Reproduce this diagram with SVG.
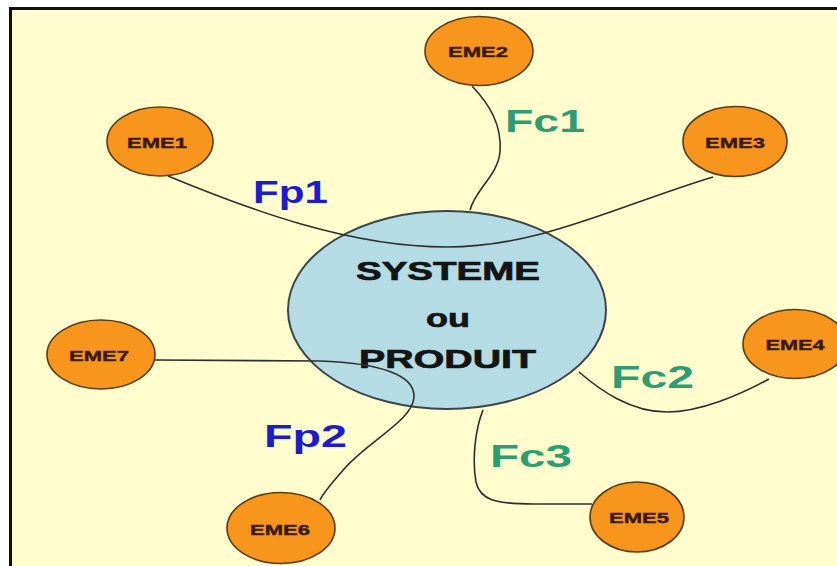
<svg xmlns="http://www.w3.org/2000/svg" width="837" height="566" viewBox="0 0 837 566">
  <style>
    .eme ellipse { fill: #F8951C; stroke: #5A3C14; stroke-width: 1.6; }
    .eme text { font-family: "Liberation Sans", Arial, sans-serif; font-weight: bold; font-size: 15px; fill: #3A1A0C; stroke: #3A1A0C; stroke-width: 0.4; text-anchor: middle; }
    .link { fill: none; stroke: #2E2E2E; stroke-width: 1.6; }
    .fp { font-family: "Liberation Sans", Arial, sans-serif; font-weight: bold; font-size: 32px; fill: #1C1CCC; }
    .fc { font-family: "Liberation Sans", Arial, sans-serif; font-weight: bold; font-size: 32px; fill: #2E9C72; }
    .core text { font-family: "Liberation Sans", Arial, sans-serif; font-weight: bold; font-size: 26px; fill: #141414; stroke: #141414; stroke-width: 0.7; }
  </style>

  <!-- page and frame -->
  <rect x="0" y="0" width="837" height="566" fill="#FFFFFF"/>
  <rect x="11" y="9" width="826" height="557" fill="#FFFCCE"/>
  <line x1="9" y1="8.5" x2="837" y2="8.5" stroke="#111" stroke-width="3"/>
  <line x1="10.5" y1="7" x2="10.5" y2="566" stroke="#111" stroke-width="3"/>

  <!-- central system -->
  <g id="systeme" class="core">
    <ellipse cx="447" cy="310" rx="159" ry="99" fill="#B5DCE5" stroke="#3A4646" stroke-width="2"/>
    <text x="356" y="280" textLength="184" lengthAdjust="spacingAndGlyphs">SYSTEME</text>
    <text x="426" y="327" textLength="44" lengthAdjust="spacingAndGlyphs">ou</text>
    <text x="359" y="368" textLength="177" lengthAdjust="spacingAndGlyphs">PRODUIT</text>
  </g>

  <!-- connectors -->
  <g id="connectors">
    <path class="link" d="M 168 176 C 250 210, 350 247, 447 247 C 540 247, 620 205, 713 177"/>
    <path class="link" d="M 472 86 C 490 105, 502 125, 500 152 C 498 175, 475 190, 470 210"/>
    <path class="link" d="M 155 360 L 320 361 C 380 363, 415 375, 414 397 C 413 420, 370 440, 345 468 C 330 485, 322 495, 320 500"/>
    <path class="link" d="M 579 372 C 600 390, 630 412, 667 412 C 700 412, 740 395, 769 379"/>
    <path class="link" d="M 483 410 C 475 430, 472 460, 476 482 C 480 500, 495 504, 534 504 L 592 504"/>
    <text class="fp" x="253" y="203" textLength="75" lengthAdjust="spacingAndGlyphs">Fp1</text>
    <text class="fp" x="264" y="447" textLength="83" lengthAdjust="spacingAndGlyphs">Fp2</text>
    <text class="fc" x="505" y="132" textLength="80" lengthAdjust="spacingAndGlyphs">Fc1</text>
    <text class="fc" x="611" y="388" textLength="83" lengthAdjust="spacingAndGlyphs">Fc2</text>
    <text class="fc" x="490" y="467" textLength="82" lengthAdjust="spacingAndGlyphs">Fc3</text>
  </g>

  <!-- external environment elements -->
  <g id="eme1" class="eme">
    <ellipse cx="160" cy="141.5" rx="53" ry="34.5"/>
    <text x="157" y="148" textLength="60" lengthAdjust="spacingAndGlyphs">EME1</text>
  </g>
  <g id="eme2" class="eme">
    <ellipse cx="479" cy="51" rx="54" ry="34.5"/>
    <text x="478" y="57" textLength="60" lengthAdjust="spacingAndGlyphs">EME2</text>
  </g>
  <g id="eme3" class="eme">
    <ellipse cx="735" cy="141.5" rx="52" ry="35"/>
    <text x="735" y="148" textLength="60" lengthAdjust="spacingAndGlyphs">EME3</text>
  </g>
  <g id="eme4" class="eme">
    <ellipse cx="795" cy="344" rx="52" ry="34.5"/>
    <text x="795" y="350" textLength="59" lengthAdjust="spacingAndGlyphs">EME4</text>
  </g>
  <g id="eme5" class="eme">
    <ellipse cx="637" cy="517" rx="47" ry="35"/>
    <text x="639" y="523" textLength="60" lengthAdjust="spacingAndGlyphs">EME5</text>
  </g>
  <g id="eme6" class="eme">
    <ellipse cx="281" cy="528" rx="54" ry="35.5"/>
    <text x="280" y="535" textLength="60" lengthAdjust="spacingAndGlyphs">EME6</text>
  </g>
  <g id="eme7" class="eme">
    <ellipse cx="101" cy="354.5" rx="54" ry="34.5"/>
    <text x="99" y="361" textLength="60" lengthAdjust="spacingAndGlyphs">EME7</text>
  </g>
</svg>
